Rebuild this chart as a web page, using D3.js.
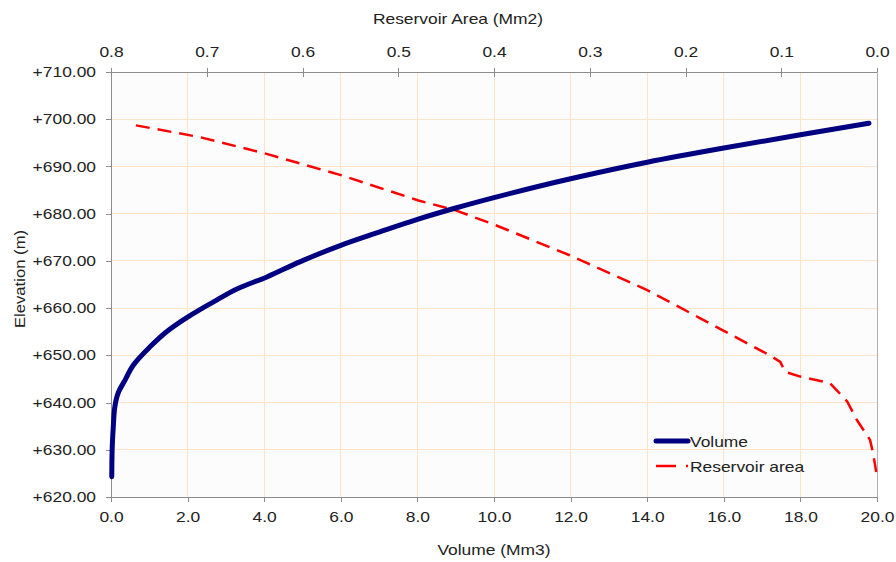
<!DOCTYPE html>
<html>
<head>
<style>
body { margin: 0; background: #fff; font-family: "Liberation Sans", Arial, sans-serif; }
.axis path, .axis line { stroke: #8c8c8c; shape-rendering: crispEdges; }
.axis text { font-family: "Liberation Sans", Arial, sans-serif; font-size: 14.5px; fill: #222; }
.grid line { stroke: #fde3c8; stroke-width: 1; shape-rendering: crispEdges; }
</style>
<script src="https://d3js.org/d3.v7.min.js"></script>
</head>
<body>
<div id="chart"></div>
<script>
// volume curve: [volume Mm3, elevation m]
var volVolume = [0.02, 0.03, 0.06, 0.10, 0.20, 0.37, 0.58, 1.02, 1.45, 2.02, 2.76, 3.30, 4.07, 4.93, 6.0, 7.0, 8.0, 9.0, 10.0, 12.0, 14.0, 16.0, 18.0, 19.79];
var volElev   = [624.3, 630.0, 634.9, 639.1, 642.3, 644.8, 647.9, 651.8, 655.0, 658.2, 661.7, 664.1, 666.6, 669.8, 673.3, 676.1, 678.8, 681.2, 683.4, 687.4, 690.9, 693.9, 696.7, 699.15];
// reservoir area curve: [area Mm2, elevation m]
var areaArea = [0.774, 0.707, 0.640, 0.559, 0.479, 0.44, 0.40, 0.321, 0.240, 0.185, 0.161, 0.112, 0.101, 0.096, 0.080, 0.049, 0.042, 0.031, 0.021, 0.0073, 0.004, 0.0];
var areaElev = [698.7, 696.2, 692.8, 688.1, 682.8, 680.7, 677.7, 671.2, 663.8, 657.9, 655.3, 650.0, 648.6, 646.5, 645.5, 644.1, 642.6, 640.2, 636.3, 632.1, 629.2, 624.3];

var volTicks = [0, 2, 4, 6, 8, 10, 12, 14, 16, 18, 20];
var areaTicks = [0.8, 0.7, 0.6, 0.5, 0.4, 0.3, 0.2, 0.1, 0.0];
var elevTicks = [620, 630, 640, 650, 660, 670, 680, 690, 700, 710];

var width = 896, height = 562,
    margin = {top: 72, right: 19, bottom: 65, left: 111};
var w = width - margin.left - margin.right,
    h = height - margin.top - margin.bottom;

var svg = d3.select('#chart').append('svg')
  .attr('width', width).attr('height', height);
var g = svg.append('g').attr('transform', `translate(${margin.left},${margin.top})`);

var x = d3.scaleLinear().domain([0, 20]).range([0, w]);
var xTop = d3.scaleLinear().domain([0.8, 0]).range([0, w]);
var y = d3.scaleLinear().domain([620, 710]).range([h, 0]);

g.append('rect').attr('width', w).attr('height', h).attr('fill', '#fcfcfc');

// grid
g.append('g').attr('class', 'grid')
  .selectAll('line.v').data(volTicks.slice(1, -1)).enter().append('line')
  .attr('x1', d => x(d)).attr('x2', d => x(d)).attr('y1', 0).attr('y2', h);
g.append('g').attr('class', 'grid')
  .selectAll('line.h').data(elevTicks.slice(1, -1)).enter().append('line')
  .attr('x1', 0).attr('x2', w).attr('y1', d => y(d)).attr('y2', d => y(d));

// axes
g.append('g').attr('class', 'axis').attr('transform', `translate(0,${h})`)
  .call(d3.axisBottom(x).tickValues(volTicks).tickFormat(d3.format('.1f')).tickSizeOuter(0).tickSize(5).tickPadding(10));
g.append('g').attr('class', 'axis')
  .call(d3.axisLeft(y).tickValues(elevTicks).tickFormat(d => '+' + d.toFixed(2)).tickSizeOuter(0).tickSize(5).tickPadding(10));
var topAxis = g.append('g').attr('class', 'axis')
  .call(d3.axisTop(xTop).tickValues(areaTicks).tickFormat(d3.format('.1f')).tickSizeOuter(0).tickSize(4).tickPadding(11));
topAxis.selectAll('.tick line').attr('y2', 5).attr('y1', -4);
g.append('line').attr('x1', w).attr('x2', w).attr('y1', 0).attr('y2', h)
  .attr('stroke', '#b0b0b0').attr('shape-rendering', 'crispEdges');

// lines
var volData = volVolume.map((v, i) => [v, volElev[i]]);
var areaData = areaArea.map((a, i) => [a, areaElev[i]]);

g.append('path').datum(areaData)
  .attr('fill', 'none').attr('stroke', '#ff0000').attr('stroke-width', 2.5)
  .attr('stroke-dasharray', '14,8')
  .attr('d', d3.line().x(d => xTop(d[0])).y(d => y(d[1])));

g.append('path').datum(volData)
  .attr('fill', 'none').attr('stroke', '#000080').attr('stroke-width', 5)
  .attr('stroke-linecap', 'round').attr('stroke-linejoin', 'round')
  .attr('d', d3.line().curve(d3.curveMonotoneY).x(d => x(d[0])).y(d => y(d[1])));

// legend
var lg = svg.append('g').attr('transform', 'translate(656,441)');
lg.append('line').attr('x1', 0).attr('x2', 32).attr('y1', 0).attr('y2', 0)
  .attr('stroke', '#000080').attr('stroke-width', 5).attr('stroke-linecap', 'round');
lg.append('text').attr('x', 34).attr('y', 6).text('Volume')
  .style('font-size', '14.5px').attr('fill', '#222');
lg.append('line').attr('x1', 0).attr('x2', 34).attr('y1', 25).attr('y2', 25)
  .attr('stroke', '#ff0000').attr('stroke-width', 2.5).attr('stroke-dasharray', '20,10,2,10');
lg.append('text').attr('x', 34).attr('y', 31).text('Reservoir area')
  .style('font-size', '14.5px').attr('fill', '#222');

// titles
svg.append('text').attr('x', 458).attr('y', 24).attr('text-anchor', 'middle')
  .style('font-size', '14.5px').attr('fill', '#222').text('Reservoir Area (Mm2)');
svg.append('text').attr('x', 494).attr('y', 555).attr('text-anchor', 'middle')
  .style('font-size', '14.5px').attr('fill', '#222').text('Volume (Mm3)');
svg.append('text').attr('transform', 'translate(25,279) rotate(-90)').attr('text-anchor', 'middle')
  .style('font-size', '14.5px').attr('fill', '#222').text('Elevation (m)');

// the source picture is stretched: widen text a bit
svg.selectAll('text').each(function () {
  var tr = this.getAttribute('transform');
  var k = tr && tr.indexOf('rotate') >= 0 ? 1.15 : 1.2;
  var len = this.getComputedTextLength();
  d3.select(this).attr('textLength', len * k).attr('lengthAdjust', 'spacingAndGlyphs');
});
</script>
</body>
</html>
